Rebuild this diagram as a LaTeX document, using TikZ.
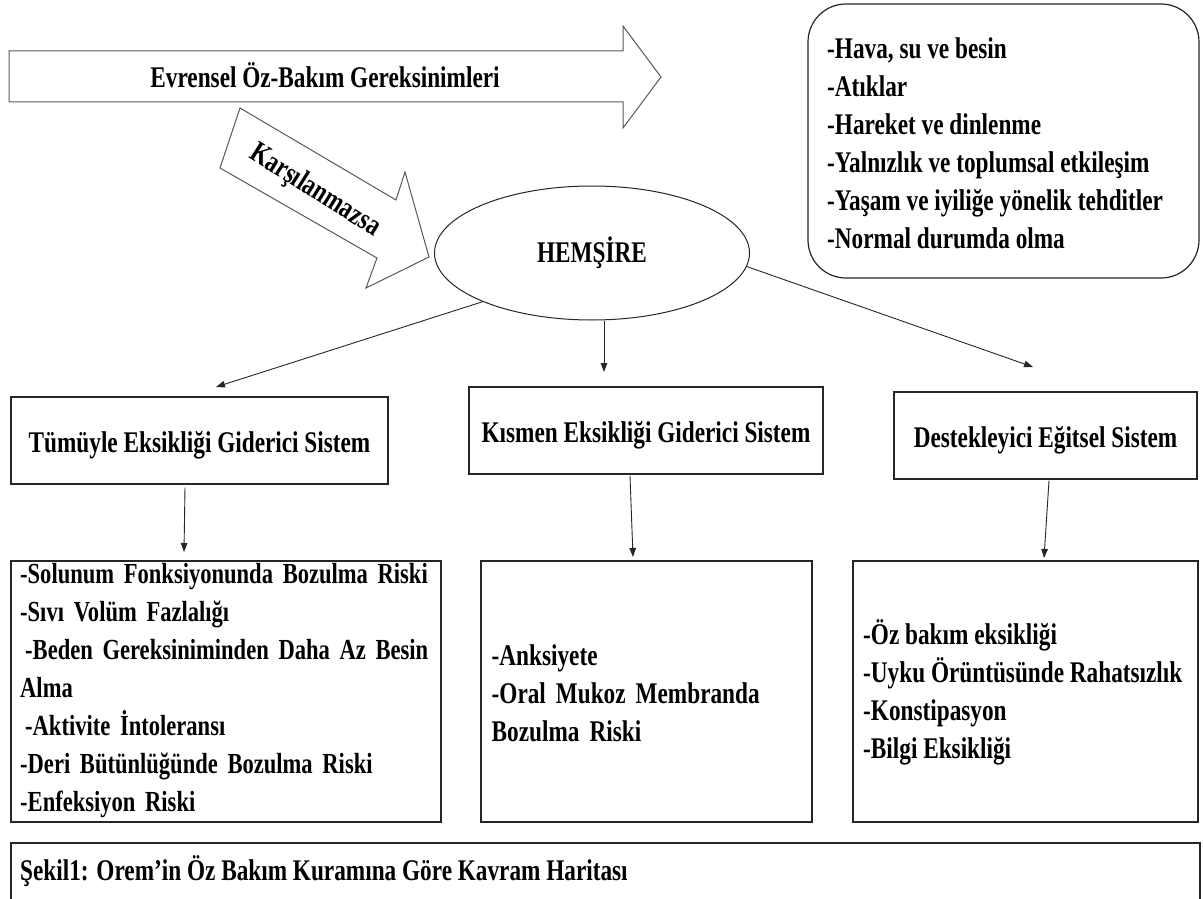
\documentclass[tikz,border=0pt]{standalone}
\usepackage{fontspec}
\setmainfont{Liberation Serif}[FakeStretch=0.775]
\usetikzlibrary{arrows.meta,shapes.geometric,calc}
\begin{document}
\begin{tikzpicture}[x=1pt,y=-1pt,
  txt/.style={font=\fontsize{30}{38}\selectfont\bfseries, inner sep=0pt, text=black},
  smalltxt/.style={txt, font=\fontsize{29.1}{38}\selectfont\bfseries},
  box/.style={draw=black!85, line width=1.2pt, rectangle, inner sep=0pt},
  sysbox/.style={box, txt, minimum height=87pt, text height=24pt, text depth=0pt},
  listbox/.style={box, minimum height=261pt},
  arr/.style={draw=black!85, line width=0.9pt, -{Triangle[length=9pt,width=6.5pt]}},
  bigarrow/.style={draw=black!65, line width=1pt, line join=miter, fill=white},
]
\useasboundingbox (0,0) rectangle (1203,899);
\fill[white] (0,0) rectangle (1203,899);

% universal self-care requisites arrow
\draw[bigarrow] (9,51) -- (623,51) -- (623,26) -- (661,77) -- (623,128) -- (623,102) -- (9,102) -- cycle;
\node[txt, anchor=base] (evr) at (325,88) {Evrensel Öz-Bakım Gereksinimleri};

% "if not met" arrow
\draw[bigarrow] (240,108) -- (396,200) -- (405,172) -- (429,257) -- (366,288) -- (377,258) -- (220,168) -- cycle;
\node[txt, rotate=-32] (kars) at (315,191) {Karşılanmazsa};

% needs box
\node[box, rounded corners=38pt, minimum width=391pt, minimum height=274pt] (needsbox) at (1003.5,141) {};
\node[txt, anchor=west, align=left] (needs) at (827,143.4)
  {-Hava, su ve besin\\-Atıklar\\-Hareket ve dinlenme\\-Yalnızlık ve toplumsal etkileşim\\-Yaşam ve iyiliğe yönelik tehditler\\-Normal durumda olma};

% nurse
\node[ellipse, draw=black!85, line width=1pt, minimum width=315pt, minimum height=134pt, inner sep=0pt, txt] (hem) at (592,253) {HEMŞİRE};

% systems
\node[sysbox, minimum width=377pt] (tum) at (199.5,440.5) {Tümüyle Eksikliği Giderici Sistem};
\node[sysbox, minimum width=354pt] (kis) at (646,430.5) {Kısmen Eksikliği Giderici Sistem};
\node[sysbox, minimum width=303pt] (des) at (1045.5,435.5) {Destekleyici Eğitsel Sistem};

\coordinate (c1) at (216,387);
\coordinate (c2) at (604,372);
\coordinate (c3) at (1033,367);
\draw[arr] (hem.204) -- (c1);
\draw[arr] (c2 |- hem.south) -- (c2);
\draw[arr] (hem.-5) -- (c3);

% diagnosis boxes
\node[listbox, minimum width=430pt] (l1) at (226,691.5) {};
\node[listbox, minimum width=331pt] (l2) at (646.5,691.5) {};
\node[listbox, minimum width=345pt] (l3) at (1025.5,691.5) {};

\coordinate (d1) at (184,552);
\coordinate (d2) at (633,557);
\coordinate (d3) at (1044,558);
\draw[arr] ($(tum.south)+(-14.5,3)$) -- (d1);
\draw[arr] ($(kis.south)+(-16,1)$) -- (d2);
\draw[arr] ($(des.south)+(3.5,1)$) -- (d3);

\node[smalltxt, anchor=west, align=left, text width=409pt] (t1) at (20,690.1)
  {\makebox[\linewidth][s]{-Solunum Fonksiyonunda Bozulma Riski}\\
   -Sıvı Volüm Fazlalığı\\
   \makebox[\linewidth][s]{\hspace*{5pt}-Beden Gereksiniminden Daha Az Besin}\\
   Alma\\
   \hspace*{5pt}-Aktivite İntoleransı\\
   -Deri Bütünlüğünde Bozulma Riski\\
   -Enfeksiyon Riski};
\node[txt, anchor=west, align=left, text width=309pt] (t2) at (491.5,692.8)
  {-Anksiyete\\
   \makebox[\linewidth][s]{-Oral Mukoz Membranda}\\
   Bozulma Riski};
\node[txt, anchor=west, align=left] (t3) at (863,692.2)
  {-Öz bakım eksikliği\\-Uyku Örüntüsünde Rahatsızlık\\-Konstipasyon\\-Bilgi Eksikliği};

% caption
\draw[draw=black!85, line width=1.2pt] (11,899) -- (11,843) -- (1200,843) -- (1200,899);
\node[txt, anchor=base west] (cap) at (20,880) {Şekil1: Orem’in Öz Bakım Kuramına Göre Kavram Haritası};
\end{tikzpicture}
\end{document}
